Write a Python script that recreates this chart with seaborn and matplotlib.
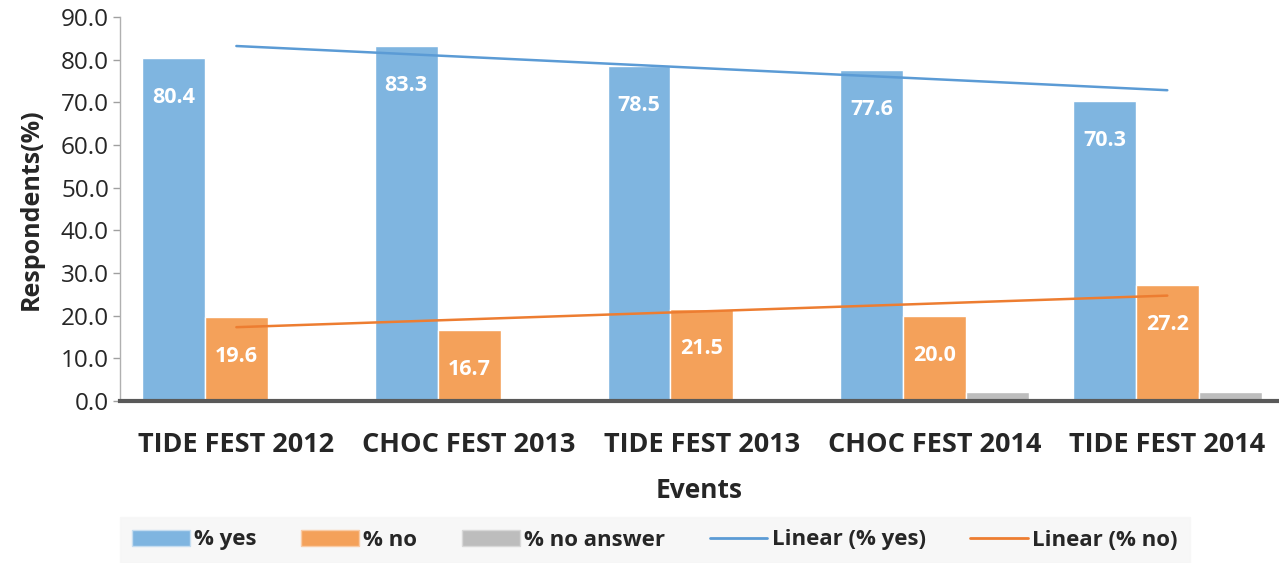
import numpy as np
import pandas as pd
import seaborn as sns
import matplotlib.pyplot as plt
from matplotlib.lines import Line2D
from matplotlib.patches import Patch

# data
events = ["TIDE FEST 2012", "CHOC FEST 2013", "TIDE FEST 2013", "CHOC FEST 2014", "TIDE FEST 2014"]
pct_yes = [80.4, 83.3, 78.5, 77.6, 70.3]
pct_no = [19.6, 16.7, 21.5, 20.0, 27.2]
pct_no_answer = [0.0, 0.0, 0.0, 2.0, 2.0]
series = ["% yes", "% no", "% no answer"]

col_yes = "#7FB5E0"
col_no = "#F4A15A"
col_na = "#BDBDBD"
line_yes = "#5B9BD5"
line_no = "#ED7D31"

df = pd.DataFrame({
    "Events": events * 3,
    "value": pct_yes + pct_no + pct_no_answer,
    "series": [s for s in series for _ in events],
})

sns.set_style("white")
plt.rcParams["font.family"] = ["Open Sans", "DejaVu Sans"]

fig = plt.figure(figsize=(12.79, 5.63), dpi=100)
ax = fig.add_axes([120 / 1279, 162 / 563, 1 - 120 / 1279, 384 / 563])

sns.barplot(data=df, x="Events", y="value", hue="series", order=events,
            hue_order=series, palette=[col_yes, col_no, col_na], width=0.81,
            edgecolor="white", linewidth=1, saturation=1, legend=False, ax=ax)

# value labels inside yes / no bars
for cont in ax.containers[:2]:
    ax.bar_label(cont, fmt="%.1f", padding=-36, color="white",
                 fontweight="bold", fontsize=15.5)

# linear trend lines
xs = np.arange(len(events))
for vals, c in [(pct_yes, line_yes), (pct_no, line_no)]:
    k, b = np.polyfit(xs, vals, 1)
    ax.plot(xs, k * xs + b, color=c, linewidth=1.8)

ax.set_ylim(0, 90)
ax.set_xlim(-0.5, 4.48)
ax.set_yticks(np.arange(0, 91, 10))
ax.set_yticklabels([f"{v:.1f}" for v in np.arange(0, 91, 10)], fontsize=17.5)
ax.set_xticks(xs)
ax.set_xticklabels(events, fontsize=19.5, fontweight="bold")
ax.tick_params(axis="x", length=0, pad=22)
ax.tick_params(axis="y", length=5, width=1, color="#A0A0A0", direction="out", left=True, pad=3)

for s in ["top", "right"]:
    ax.spines[s].set_visible(False)
ax.spines["left"].set_color("#B0B0B0")
ax.spines["left"].set_linewidth(1)
ax.spines["bottom"].set_color("#595959")
ax.spines["bottom"].set_linewidth(3)

ax.set_xlabel("Events", fontsize=19, fontweight="bold", labelpad=14)
ax.set_ylabel("Respondents(%)", fontsize=18, fontweight="bold", labelpad=12)

handles = [
    Patch(facecolor=col_yes, edgecolor="#C5DDF0"),
    Patch(facecolor=col_no, edgecolor="#F9CBA5"),
    Patch(facecolor=col_na, edgecolor="#D8D8D8"),
    Line2D([0], [0], color=line_yes, linewidth=2),
    Line2D([0], [0], color=line_no, linewidth=2),
]
labels = ["% yes", "% no", "% no answer", "Linear (% yes)", "Linear (% no)"]
leg = fig.legend(handles, labels, loc="center", bbox_to_anchor=(655 / 1279, 1 - 540 / 563),
                 ncol=5, frameon=True, fancybox=False,
                 prop={"weight": "bold", "size": 16}, handlelength=2.6,
                 handletextpad=0.2, columnspacing=2.0, borderpad=0.55)
leg.get_frame().set_facecolor("#F6F6F6")
leg.get_frame().set_edgecolor("#F6F6F6")

fig.savefig("out.png", dpi=100)
